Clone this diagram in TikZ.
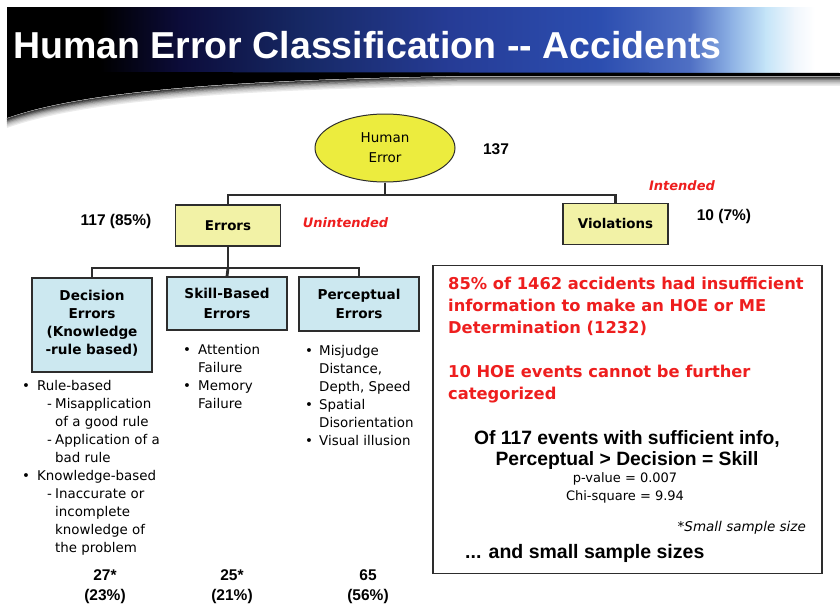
\documentclass[tikz,border=0pt]{standalone}
\usepackage{fontspec}
\setmainfont{DejaVu Sans}
\newfontfamily\arialf{Liberation Sans}
\usetikzlibrary{shapes.geometric}
\definecolor{boxyel}{RGB}{242,242,166}
\definecolor{boxblue}{RGB}{204,232,240}
\definecolor{ellyel}{RGB}{236,236,62}
\definecolor{redtxt}{RGB}{238,30,30}
\definecolor{linec}{RGB}{45,45,45}
\definecolor{hA}{RGB}{0,0,0}
\definecolor{hB}{RGB}{12,12,58}
\definecolor{hC}{RGB}{22,40,100}
\definecolor{hD}{RGB}{38,60,150}
\definecolor{hE}{RGB}{44,78,176}
\definecolor{hF}{RGB}{80,112,196}
\definecolor{hG}{RGB}{140,176,228}
\definecolor{hH}{RGB}{196,228,248}
\definecolor{hI}{RGB}{240,246,252}
\newcommand{\mybul}{\makebox[15pt][l]{•}}
\newcommand{\mydsh}{\makebox[8pt][l]{-}}
\begin{document}
\begin{tikzpicture}[x=1pt,y=-1pt,
  conn/.style={draw=linec, line width=2.8pt},
  ybox/.style={draw=linec, line width=1.2pt, fill=boxyel, minimum width=105pt, minimum height=41pt, inner sep=0pt, font=\fontsize{13.4}{18.5}\selectfont\bfseries},
  bbox/.style={draw=linec, line width=1.2pt, fill=boxblue, minimum width=120pt, align=center, inner sep=0pt},
  cnt/.style={font=\arialf\fontsize{15.5}{20}\selectfont\bfseries, align=center, inner sep=0pt},
  redlbl/.style={text=redtxt, font=\fontsize{13}{16}\selectfont\bfseries\itshape, inner sep=0pt},
  lst/.style={anchor=north west, align=left, inner sep=0pt, font=\fontsize{13.4}{18}\selectfont},
]
\useasboundingbox (0,0) rectangle (840,605);
\fill[white] (0,0) rectangle (840,605);
% ---- header band
\fill[hA] (7,7) rectangle (101,73);
\shade[left color=hA, right color=hB] (100,7) rectangle (181,73);
\shade[left color=hB, right color=hC] (180,7) rectangle (301,73);
\shade[left color=hC, right color=hD] (300,7) rectangle (451,73);
\shade[left color=hD, right color=hE] (450,7) rectangle (601,73);
\shade[left color=hE, right color=hF] (600,7) rectangle (691,73);
\shade[left color=hF, right color=hG] (690,7) rectangle (731,73);
\shade[left color=hG, right color=hH] (730,7) rectangle (766,73);
\shade[left color=hH, right color=hI] (765,7) rectangle (795,73);
\shade[left color=hI, right color=white] (794,7) rectangle (815,73);
% swoosh shadow
\foreach \i/\c in {7/8,6/15,5/22,4/32,3/45,2/60,1/75}{
  \draw[black!\c, line width=1.6pt, shift={(0,\i*1.3)}]
    (7,118) .. controls (80,92) and (220,80) .. (460,76) -- (840,76);
}
% swoosh
\fill[black] (7,72) -- (7,118) .. controls (80,92) and (220,80) .. (460,76) -- (840,76) -- (840,73) -- (460,72.5) -- cycle;
% title
\node[anchor=base west, text=white, inner sep=0pt, font=\arialf\fontsize{37.5}{40}\selectfont\bfseries] (title) at (13,58) {Human Error Classification -{}- Accidents};

% ---- tree
\node[ellipse, draw=linec, line width=1pt, fill=ellyel, minimum width=140pt, minimum height=68pt, inner sep=0pt, align=center, font=\fontsize{13.5}{20}\selectfont] (he) at (385,148) {Human\\Error};
\node[cnt] (n137) at (496,149) {137};

\node[ybox] (err) at (228,225.5) {Errors};
\node[ybox] (viol) at (615.5,224) {Violations};
\node[cnt] (n117) at (116,221) {117 (85\%)};
\node[cnt] (n10) at (724,216) {10 (7\%)};
\node[redlbl] (unint) at (345.5,223) {Unintended};
\node[redlbl] (inten) at (682,186) {Intended};

\coordinate (j1) at (385,195);
\draw[conn] (he.south) -- (j1);
\draw[conn] (err.north) |- (j1) -| (viol.north);

\node[bbox, minimum height=94pt, font=\fontsize{13.6}{18.3}\selectfont\bfseries] (dec) at (92,325) {Decision\\Errors\\(Knowledge\\-rule based)\\[-13pt]};
\node[bbox, minimum height=53pt, font=\fontsize{13.6}{19.5}\selectfont\bfseries] (skl) at (227,303.5) {Skill-Based\\Errors};
\node[bbox, minimum height=54pt, font=\fontsize{13.6}{19.5}\selectfont\bfseries] (per) at (359,304) {Perceptual\\Errors};

\coordinate (j2) at (228,268);
\draw[conn] (err.south) -- (j2);
\draw[conn] (dec.north) |- (j2) -| (per.north);
\draw[conn] (j2) -- (skl.north);

% ---- lists
\node[lst] (ldec) at (22,379.8) {\mybul Rule-based\\
\hspace*{25pt}\mydsh Misapplication\\
\hspace*{33pt}of a good rule\\
\hspace*{25pt}\mydsh Application of a\\
\hspace*{33pt}bad rule\\
\mybul Knowledge-based\\
\hspace*{25pt}\mydsh Inaccurate or\\
\hspace*{33pt}incomplete\\
\hspace*{33pt}knowledge of\\
\hspace*{33pt}the problem};
\node[lst] (lskl) at (183,344) {\mybul Attention\\
\hspace*{15pt}Failure\\
\mybul Memory\\
\hspace*{15pt}Failure};
\node[lst] (lper) at (305,345) {\makebox[14pt][l]{•}Misjudge\\
\hspace*{14pt}Distance,\\
\hspace*{14pt}Depth, Speed\\
\makebox[14pt][l]{•}Spatial\\
\hspace*{14pt}Disorientation\\
\makebox[14pt][l]{•}Visual illusion};

% ---- counts
\node[cnt] (c1) at (105,587) {27*\\(23\%)};
\node[cnt] (c2) at (232,587) {25*\\(21\%)};
\node[cnt] (c3) at (368,587) {65\\(56\%)};

% ---- right box
\node[draw=linec, line width=1.4pt, minimum width=389pt, minimum height=308pt, inner sep=0pt] (rbox) at (627.5,419.5) {};
\node[anchor=north west, align=left, inner sep=0pt, text=redtxt, font=\fontsize{16.3}{22}\selectfont\bfseries] (rtxt) at (448,276.5) {85\% of 1462 accidents had insufficient\\
information to make an HOE or ME\\
Determination (1232)\\[22pt]
10 HOE events cannot be further\\
categorized};
\node[anchor=north, align=center, inner sep=0pt, font=\arialf\fontsize{19.3}{21}\selectfont\bfseries] (btxt) at (627,430) {Of 117 events with sufficient info,\\Perceptual > Decision = Skill};
\node[anchor=north, align=center, inner sep=0pt, font=\fontsize{13}{18}\selectfont] (stat) at (625,472) {p-value = 0.007\\Chi-square = 9.94};
\node[anchor=east, inner sep=0pt, font=\fontsize{13.5}{16}\selectfont\itshape] (small) at (806,528) {*Small sample size};
\node[anchor=west, inner sep=0pt, font=\arialf\fontsize{19.5}{22}\selectfont\bfseries] (andss) at (465,553) {... and small sample sizes};
\end{tikzpicture}
\end{document}
